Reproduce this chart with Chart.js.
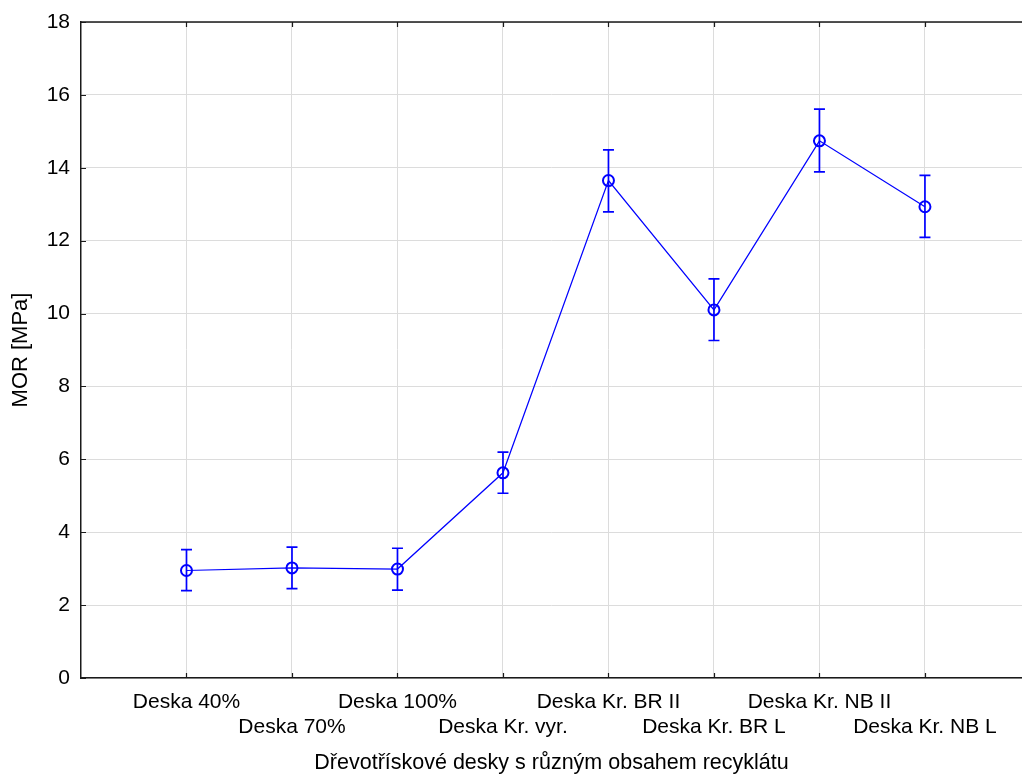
<!DOCTYPE html>
<html>
<head>
<meta charset="utf-8">
<script src="https://cdn.jsdelivr.net/npm/chart.js@4.4.1/dist/chart.umd.min.js"></script>
<style>
html,body{margin:0;padding:0;background:#fff;overflow:hidden}
canvas{display:block}
</style>
</head>
<body>
<canvas id="c" width="1022" height="776"></canvas>
<script>
// ---- data ----
const categories = ['Deska 40%', 'Deska 70%', 'Deska 100%', 'Deska Kr. vyr.', 'Deska Kr. BR II', 'Deska Kr. BR L', 'Deska Kr. NB II', 'Deska Kr. NB L'];
const meanValues  = [2.95, 3.02, 2.99, 5.63, 13.65, 10.10, 14.74, 12.93];
const upperValues = [3.52, 3.59, 3.56, 6.20, 14.49, 10.95, 15.61, 13.79];
const lowerValues = [2.40, 2.45, 2.41, 5.07, 12.79, 9.26, 13.89, 12.09];
const yTickValues = [0, 2, 4, 6, 8, 10, 12, 14, 16, 18];
const xTitle = 'Dřevotřískové desky s různým obsahem recyklátu';
const yTitle = 'MOR [MPa]';

const FONT = '"Liberation Sans", Arial, sans-serif';
const BLUE = '#0000ff';
const AXIS = '#1a1a1a';

const points = meanValues.map((v, i) => ({ x: i + 1, y: v }));

const errorBars = {
  id: 'errorBars',
  afterDatasetsDraw(chart) {
    const xs = chart.scales.x, ys = chart.scales.y, ctx = chart.ctx;
    ctx.save();
    ctx.strokeStyle = BLUE;
    ctx.lineWidth = 1.7;
    meanValues.forEach((v, i) => {
      const px = xs.getPixelForValue(i + 1);
      const pt = ys.getPixelForValue(upperValues[i]);
      const pb = ys.getPixelForValue(lowerValues[i]);
      const hw = 5.5;
      ctx.beginPath();
      ctx.moveTo(px, pt); ctx.lineTo(px, pb);
      ctx.moveTo(px - hw, pt); ctx.lineTo(px + hw, pt);
      ctx.moveTo(px - hw, pb); ctx.lineTo(px + hw, pb);
      ctx.stroke();
    });
    ctx.restore();
  }
};

const frame = {
  id: 'frame',
  afterDraw(chart) {
    const {ctx, chartArea: a} = chart;
    const xs = chart.scales.x, ys = chart.scales.y;
    ctx.save();
    ctx.strokeStyle = AXIS;
    ctx.lineWidth = 1.5;
    ctx.beginPath();
    ctx.moveTo(a.left, a.top); ctx.lineTo(a.right + 2, a.top);
    ctx.stroke();
    ctx.lineWidth = 1.2;
    ctx.beginPath();
    yTickValues.forEach(v => {
      const py = Math.round(ys.getPixelForValue(v)) + 0.5;
      ctx.moveTo(a.left, py); ctx.lineTo(a.left + 5, py);
    });
    categories.forEach((c, i) => {
      const px = Math.round(xs.getPixelForValue(i + 1)) + 0.5;
      ctx.moveTo(px, a.bottom); ctx.lineTo(px, a.bottom - 5);
      ctx.moveTo(px, a.top); ctx.lineTo(px, a.top + 5);
    });
    ctx.stroke();
    ctx.restore();
  }
};

new Chart(document.getElementById('c'), {
  type: 'line',
  data: {
    datasets: [{
      data: points,
      borderColor: BLUE,
      borderWidth: 1.2,
      pointRadius: 5.5,
      pointHoverRadius: 5.5,
      pointBorderWidth: 2,
      pointBorderColor: BLUE,
      pointBackgroundColor: 'rgba(0,0,0,0)',
      fill: false,
      tension: 0
    }]
  },
  options: {
    responsive: false,
    animation: false,
    events: [],
    layout: { autoPadding: false, padding: { top: 22, right: 0, left: 0, bottom: 0 } },
    plugins: { legend: { display: false }, tooltip: { enabled: false } },
    scales: {
      x: {
        type: 'linear',
        min: 0,
        max: 8.92,
        afterBuildTicks(scale) { scale.ticks = categories.map((c, i) => ({ value: i + 1 })); },
        afterFit(scale) { scale.height = 98; scale.paddingRight = 0; scale.paddingLeft = 0; },
        grid: { color: '#dcdcdc', lineWidth: 1, drawTicks: false },
        border: { display: true, color: AXIS, width: 1.5 },
        ticks: {
          autoSkip: false, maxRotation: 0, minRotation: 0, padding: 12,
          color: '#000',
          font: { family: FONT, size: 21, lineHeight: 1.18 },
          callback(value) {
            const i = Math.round(value) - 1;
            const label = categories[i];
            return i % 2 === 0 ? [label] : ['', label];
          }
        },
        title: {
          display: true, text: xTitle, color: '#000',
          font: { family: FONT, size: 21.5 },
          padding: { top: 0, bottom: 0 }
        }
      },
      y: {
        min: 0, max: 18,
        afterBuildTicks(scale) { scale.ticks = yTickValues.map(v => ({ value: v })); },
        afterFit(scale) { scale.width = 81; scale.paddingTop = 0; scale.paddingBottom = 0; },
        grid: { color: '#dcdcdc', lineWidth: 1, drawTicks: false },
        border: { display: true, color: AXIS, width: 1.5 },
        ticks: {
          padding: 11, color: '#000',
          font: { family: FONT, size: 21 }
        },
        title: {
          display: true, text: yTitle, color: '#000',
          font: { family: FONT, size: 22 },
          padding: { top: 8, bottom: 0 }
        }
      }
    }
  },
  plugins: [errorBars, frame]
});
</script>
</body>
</html>
